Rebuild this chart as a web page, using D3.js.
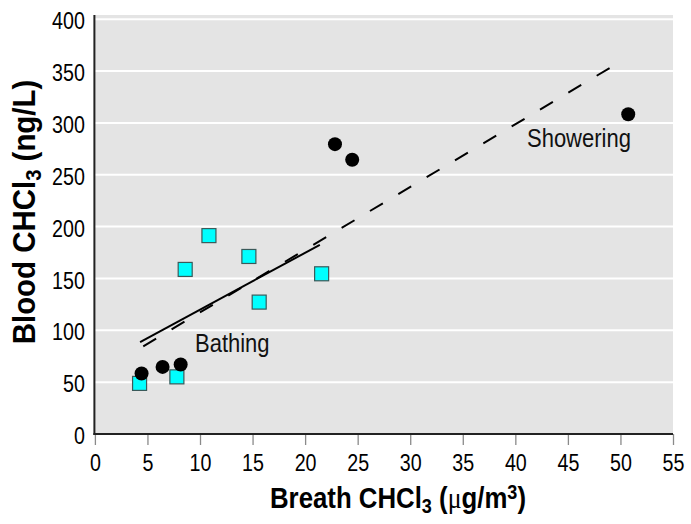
<!DOCTYPE html>
<html><head><meta charset="utf-8">
<script src="https://cdn.jsdelivr.net/npm/d3@7"></script>
<style>
html,body{margin:0;padding:0;background:#fff;}
svg text{font-family:"Liberation Sans",Arial,sans-serif;}
</style></head>
<body><svg id="c" width="691" height="524"></svg>
<script>
// Data
const xTicks = [0,5,10,15,20,25,30,35,40,45,50,55];
const yTicks = [0,50,100,150,200,250,300,350,400];
const circleX = [4.44, 6.44, 8.16, 22.84, 24.48, 50.74];
const circleY = [58.4, 64.7, 67.0, 279.5, 264.4, 308.4];
const squareX = [4.25, 7.80, 8.59, 10.85, 14.65, 15.63, 21.57];
const squareY = [48.8, 55.1, 158.7, 191.3, 171.2, 127.2, 154.5];
const solidLineX = [4.3, 21.4];
const solidLineY = [88.7, 182.4];
const dashedLineX = [4.6, 49.4];
const dashedLineY = [84.6, 355.5];
const labels = ["Bathing", "Showering"];

const svg = d3.select("#c");
const x = d3.scaleLinear().domain([0,55]).range([94.9,673]);
const y = d3.scaleLinear().domain([0,400]).range([434,19.2]);

// background
svg.append("rect").attr("x",x(0)).attr("y",15).attr("width",x(55)-x(0)).attr("height",y(0)-15).attr("fill","#e4e4e4");

// gridlines
svg.append("g").selectAll("line").data(yTicks.filter(d=>d>0)).join("line")
  .attr("x1",x(0)).attr("x2",x(55)).attr("y1",d=>y(d)).attr("y2",d=>y(d))
  .attr("stroke","#fff").attr("stroke-width",2);

// x axis
const xa = svg.append("g").attr("transform",`translate(0,${y(0)})`)
  .call(d3.axisBottom(x).tickValues(xTicks).tickSize(11).tickPadding(9).tickFormat(d3.format("d")));
xa.select(".domain").remove();
xa.selectAll(".tick line").attr("stroke","#8a8a8a").attr("stroke-width",1.3);
xa.selectAll(".tick text").attr("font-size",24).attr("fill","#000")
  .attr("transform","scale(0.82,1)");

// y axis
const ya = svg.append("g").attr("transform",`translate(${x(0)-1},0)`)
  .call(d3.axisLeft(y).tickValues(yTicks).tickSize(0).tickPadding(0).tickFormat(d3.format("d")));
ya.select(".domain").remove();
ya.selectAll(".tick text").attr("font-size",24).attr("fill","#000").attr("dy","0.4em")
  .attr("x",0).attr("transform","translate(-9,0) scale(0.82,1)");

// axis lines
svg.append("line").attr("x1",x(0)-0.5).attr("x2",x(0)-0.5).attr("y1",15).attr("y2",y(0)+1).attr("stroke","#222").attr("stroke-width",2);
svg.append("line").attr("x1",x(0)-1.5).attr("x2",x(55)).attr("y1",y(0)).attr("y2",y(0)).attr("stroke","#222").attr("stroke-width",2);

// lines
const line = d3.line().x(d=>x(d[0])).y(d=>y(d[1]));
svg.append("path").attr("d",line(d3.zip(solidLineX,solidLineY))).attr("stroke","#000").attr("stroke-width",2).attr("fill","none");
svg.append("path").attr("d",line(d3.zip(dashedLineX,dashedLineY))).attr("stroke","#000").attr("stroke-width",2).attr("fill","none").attr("stroke-dasharray","15,18");

// squares
const s = 14;
svg.append("g").selectAll("rect").data(d3.zip(squareX,squareY)).join("rect")
  .attr("x",d=>x(d[0])-s/2).attr("y",d=>y(d[1])-s/2).attr("width",s).attr("height",s)
  .attr("fill","#00ffff").attr("stroke","#3a5a5a").attr("stroke-width",1.2);

// circles
svg.append("g").selectAll("circle").data(d3.zip(circleX,circleY)).join("circle")
  .attr("cx",d=>x(d[0])).attr("cy",d=>y(d[1])).attr("r",7).attr("fill","#000");

// labels
svg.append("text").attr("transform","translate(195,352) scale(0.88,1)").attr("font-size",25).attr("fill","#111").text(labels[0]);
svg.append("text").attr("transform","translate(527,147) scale(0.88,1)").attr("font-size",25).attr("fill","#111").text(labels[1]);

// x title
const xt = svg.append("text").attr("transform","translate(398,508) scale(0.86,1)").attr("text-anchor","middle")
  .attr("font-size",30).attr("font-weight","bold");
xt.append("tspan").text("Breath CHCl");
xt.append("tspan").attr("font-size",21).attr("dy",5).text("3");
xt.append("tspan").attr("dy",-5).text(" (");
xt.append("tspan").attr("font-weight","normal").attr("font-family","Liberation Serif, serif").text("μ");
xt.append("tspan").text("g/m");
xt.append("tspan").attr("font-size",21).attr("dy",-9).text("3");
xt.append("tspan").attr("dy",9).text(")");

// y title
const yt = svg.append("text").attr("transform","translate(35,212) rotate(-90) scale(0.92,1)").attr("text-anchor","middle")
  .attr("font-size",32).attr("font-weight","bold");
yt.append("tspan").text("Blood CHCl");
yt.append("tspan").attr("font-size",22).attr("dy",6).text("3");
yt.append("tspan").attr("dy",-6).text(" (ng/L)");
</script></body></html>
